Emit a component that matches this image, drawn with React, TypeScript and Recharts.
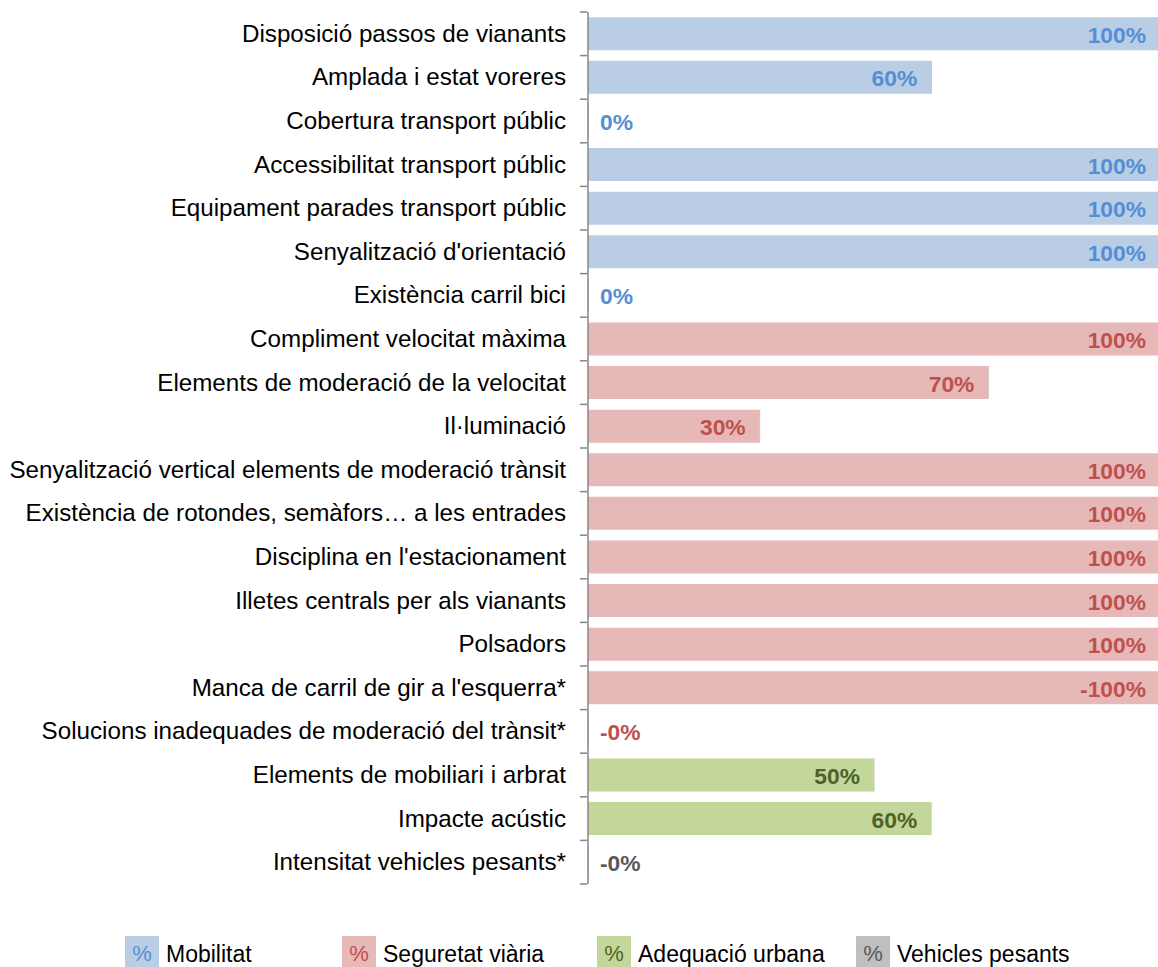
import React from "react";
import { Bar, BarChart, LabelList, Legend, XAxis, YAxis } from "recharts";

const categories = [
  "Disposició passos de vianants",
  "Amplada i estat voreres",
  "Cobertura transport públic",
  "Accessibilitat transport públic",
  "Equipament parades transport públic",
  "Senyalització d'orientació",
  "Existència carril bici",
  "Compliment velocitat màxima",
  "Elements de moderació de la velocitat",
  "Il·luminació",
  "Senyalització vertical elements de moderació trànsit",
  "Existència de rotondes, semàfors… a les entrades",
  "Disciplina en l'estacionament",
  "Illetes centrals per als vianants",
  "Polsadors",
  "Manca de carril de gir a l'esquerra*",
  "Solucions inadequades de moderació del trànsit*",
  "Elements de mobiliari i arbrat",
  "Impacte acústic",
  "Intensitat vehicles pesants*",
];

// percentage scores (bar length)
const values = [100, 60, 0, 100, 100, 100, 0, 100, 70, 30, 100, 100, 100, 100, 100, 100, 0, 50, 60, 0];

// starred indicators are shown with a minus sign
const inverse = [
  false, false, false, false, false, false, false, false, false, false,
  false, false, false, false, false, true, true, false, false, true,
];

// which series each indicator belongs to
const groups = [
  "mob", "mob", "mob", "mob", "mob", "mob", "mob",
  "seg", "seg", "seg", "seg", "seg", "seg", "seg", "seg", "seg", "seg",
  "adq", "adq", "veh",
];

const series = [
  { key: "mob", name: "Mobilitat", fill: "#b9cde5", text: "#558ed5" },
  { key: "seg", name: "Seguretat viària", fill: "#e6b9b8", text: "#c0504d" },
  { key: "adq", name: "Adequació urbana", fill: "#c4d79b", text: "#4f6228" },
  { key: "veh", name: "Vehicles pesants", fill: "#bfbfbf", text: "#595959" },
];

const data = categories.map((name, i) => {
  const row: Record<string, any> = { name };
  row[groups[i]] = values[i];
  row[groups[i] + "Label"] = (inverse[i] ? "-" : "") + values[i] + "%";
  return row;
});

const FONT = "'Liberation Sans', Arial, sans-serif";
const TOP = 12;
const BOTTOM = 83;
const HEIGHT = 967;
const BAND = (HEIGHT - TOP - BOTTOM) / categories.length;

const CategoryTick = (props: any) => {
  const { x, y, payload, index } = props;
  const axisX = x + 7;
  const top = y - BAND / 2;
  return (
    <g>
      <line x1={axisX - 7} x2={axisX} y1={top} y2={top} stroke="#868686" strokeWidth={1.5} />
      {index === categories.length - 1 && (
        <line x1={axisX - 7} x2={axisX} y1={y + BAND / 2} y2={y + BAND / 2} stroke="#868686" strokeWidth={1.5} />
      )}
      <text x={axisX - 21} y={y} dy="0.33em" textAnchor="end" fontSize={24.2} fontFamily={FONT} fill="#000">
        {payload.value}
      </text>
    </g>
  );
};

const makeLabel = (color: string) => (props: any) => {
  const { x, y, width, height, value } = props;
  if (value == null) return null;
  const small = width < 80;
  return (
    <text
      x={small ? x + 12 : x + width - 14}
      y={y + height / 2 + 1}
      dominantBaseline="central"
      textAnchor={small ? "start" : "end"}
      fontSize={22.8}
      fontWeight={700}
      fontFamily={FONT}
      fill={color}
    >
      {value}
    </text>
  );
};

const legendLefts = [125, 342, 597, 856];

const LegendContent = () => (
  <div style={{ position: "relative", width: 1158, height: 36 }}>
    {series.map((s, i) => (
      <div key={s.key} style={{ position: "absolute", left: legendLefts[i], top: 0, display: "flex", alignItems: "center" }}>
        <div
          style={{
            width: 34,
            height: 36,
            background: s.fill,
            color: s.text,
            fontFamily: FONT,
            fontSize: 22,
            display: "flex",
            alignItems: "center",
            justifyContent: "center",
          }}
        >
          %
        </div>
        <span style={{ marginLeft: 7, fontFamily: FONT, fontSize: 23, color: "#000" }}>{s.name}</span>
      </div>
    ))}
  </div>
);

export default function App() {
  return (
    <div style={{ position: "absolute", left: 0, top: 0, width: 1158, height: HEIGHT, overflow: "hidden", background: "#fff" }}>
      <BarChart
        width={1160}
        height={HEIGHT}
        data={data}
        layout="vertical"
        margin={{ top: TOP, right: 0, bottom: BOTTOM, left: 0 }}
        barCategoryGap="12%"
      >
        <XAxis type="number" domain={[0, 100]} hide />
        <YAxis
          type="category"
          dataKey="name"
          width={588}
          axisLine={{ stroke: "#868686", strokeWidth: 1.5 }}
          tickLine={false}
          tick={<CategoryTick />}
          interval={0}
        />
        {series.map((s) => (
          <Bar
            key={s.key}
            dataKey={s.key}
            name={s.name}
            stackId="a"
            fill={s.fill}
            minPointSize={0.5}
            isAnimationActive={false}
          >
            <LabelList dataKey={s.key + "Label"} content={makeLabel(s.text)} />
          </Bar>
        ))}
        <Legend
          layout="horizontal"
          verticalAlign="middle"
          align="center"
          content={<LegendContent />}
          wrapperStyle={{ top: 936, left: 0, width: 1158 }}
        />
      </BarChart>
    </div>
  );
}
